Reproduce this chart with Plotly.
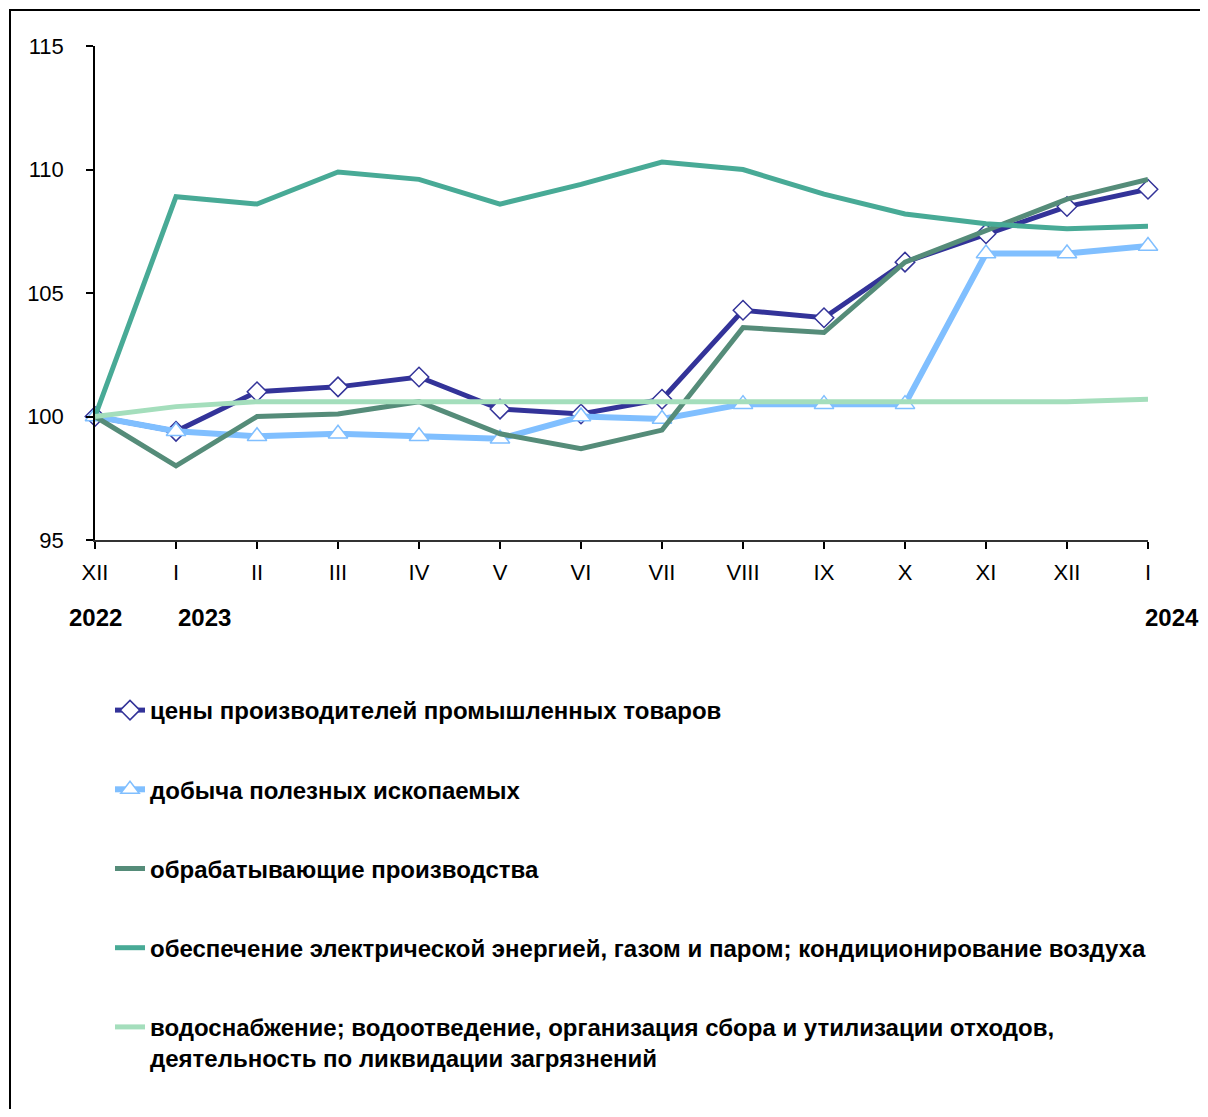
import plotly.graph_objects as go

months = ["XII", "I", "II", "III", "IV", "V", "VI", "VII", "VIII", "IX", "X", "XI", "XII", "I"]
years = ["2022", "2023", "2024"]

ppi = [100.0, 99.4, 101.0, 101.2, 101.6, 100.3, 100.1, 100.7, 104.3, 104.0, 106.25, 107.4, 108.5, 109.2]
mining = [100.0, 99.4, 99.2, 99.3, 99.2, 99.1, 100.0, 99.9, 100.5, 100.5, 100.5, 106.6, 106.6, 106.9]
manuf = [100.0, 98.0, 100.0, 100.1, 100.6, 99.3, 98.7, 99.45, 103.6, 103.4, 106.25, 107.55, 108.8, 109.6]
electric = [100.0, 108.9, 108.6, 109.9, 109.6, 108.6, 109.4, 110.3, 110.0, 109.0, 108.2, 107.8, 107.6, 107.7]
water = [100.0, 100.4, 100.6, 100.6, 100.6, 100.6, 100.6, 100.6, 100.6, 100.6, 100.6, 100.6, 100.6, 100.7]

names = [
    "цены производителей промышленных товаров",
    "добыча полезных ископаемых",
    "обрабатывающие производства",
    "обеспечение электрической энергией, газом и паром; кондиционирование воздуха",
    "водоснабжение; водоотведение, организация сбора и утилизации отходов,<br>деятельность по ликвидации загрязнений",
]

xs = list(range(len(months)))

fig = go.Figure()
fig.add_trace(go.Scatter(x=xs, y=ppi, name=names[0], legendgroup="g1", mode="lines+markers",
                         cliponaxis=False,
                         line=dict(color="#333399", width=5),
                         marker=dict(symbol="diamond", size=15, color="white",
                                     line=dict(color="#333399", width=1.5))))
fig.add_trace(go.Scatter(x=xs, y=mining, name=names[1], legendgroup="g2", mode="lines+markers",
                         cliponaxis=False,
                         line=dict(color="#80BFFF", width=6),
                         marker=dict(symbol="triangle-up", size=17, color="white",
                                     line=dict(color="#80BFFF", width=1.5))))
fig.add_trace(go.Scatter(x=xs, y=manuf, name=names[2], legendgroup="g3", mode="lines",
                         cliponaxis=False,
                         line=dict(color="#558C79", width=5)))
fig.add_trace(go.Scatter(x=xs, y=electric, name=names[3], legendgroup="g4", mode="lines",
                         cliponaxis=False,
                         line=dict(color="#48AA96", width=5)))
fig.add_trace(go.Scatter(x=xs, y=water, name=names[4], legendgroup="g5", mode="lines",
                         cliponaxis=False,
                         line=dict(color="#A4DEBC", width=5)))

W, H = 1200, 1101
L, R, T, B = 87, 60, 38, 569

fig.update_layout(
    width=W, height=H,
    margin=dict(l=L, r=R, t=T, b=B, autoexpand=False),
    paper_bgcolor="white", plot_bgcolor="white",
    font=dict(family="Liberation Sans, Arial, sans-serif", color="black", size=20),
    showlegend=True,
    legend=dict(
        xref="container", yref="container",
        x=102 / W, y=1 - 680 / H, xanchor="left", yanchor="top",
        font=dict(family="Liberation Sans, Arial, sans-serif", size=24, color="black", weight="bold"),
        tracegroupgap=45, bgcolor="rgba(0,0,0,0)", valign="top",
        itemclick=False, itemdoubleclick=False,
    ),
    xaxis=dict(
        range=[0, 13], tickmode="array", tickvals=xs, ticktext=months,
        showgrid=False, zeroline=False, showline=True, linecolor="#333333", linewidth=2,
        ticks="outside", ticklen=7, tickwidth=1.5, tickcolor="black",
        tickfont=dict(size=22), ticklabelstandoff=5,
    ),
    yaxis=dict(
        range=[95, 115], tickmode="array", tickvals=[95, 100, 105, 110, 115],
        showgrid=False, zeroline=False, showline=True, linecolor="black", linewidth=1.5,
        ticks="outside", ticklen=7, tickwidth=1.5, tickcolor="black",
        tickfont=dict(size=22), ticklabelstandoff=18,
    ),
)

# outer frame (left and top edges visible)
pw = W - L - R
ph = H - T - B
fig.add_shape(type="rect", xref="paper", yref="paper",
              x0=(2 - L) / pw, x1=(W + 20 - L) / pw,
              y0=(H - B - (H + 20)) / ph, y1=(H - B - 2) / ph,
              line=dict(color="black", width=2), fillcolor="rgba(0,0,0,0)", layer="below")

# year labels
year_pos = [(0, "center", 0), (1, "left", 0), (13, "left", -5)]
for (xv, anc, sh), yr in zip(year_pos, years):
    fig.add_annotation(x=xv, xref="x", y=(H - B - 609) / ph, yref="paper",
                       text=yr, showarrow=False, xanchor=anc, yanchor="middle", xshift=sh,
                       font=dict(size=24, weight="bold", color="black"))

fig.write_html("out.html")
